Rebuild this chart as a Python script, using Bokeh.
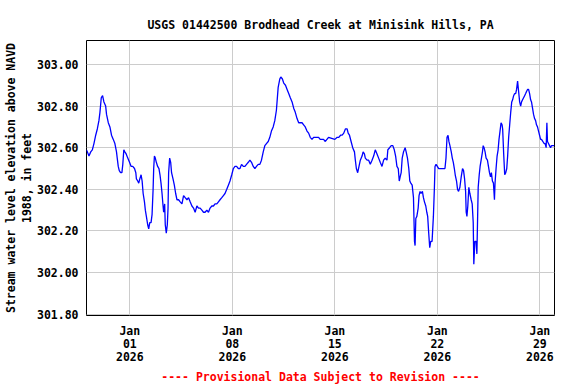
import datetime as dt
from bokeh.plotting import figure
from bokeh.models import FixedTicker, DatetimeTickFormatter, PrintfTickFormatter, Title, Range1d
from bokeh.embed import file_html
from bokeh.resources import INLINE

# ---- data ----
title_text = "USGS 01442500 Brodhead Creek at Minisink Hills, PA"
y_label = "Stream water level elevation above NAVD\n1988, in feet"
footer_text = "---- Provisional Data Subject to Revision ----"

# time of each reading, in days from 2026-01-01 00:00
day_offset = [
    -2.97, -2.90, -2.79, -2.67, -2.56, -2.45, -2.33, -2.22, -2.11, -2.04,
    -1.95, -1.86, -1.77, -1.65, -1.59, -1.47, -1.36, -1.25, -1.13, -1.02,
    -0.91, -0.86, -0.79, -0.72, -0.63, -0.54, -0.48, -0.41, -0.34, -0.25,
    -0.14, -0.02, 0.09, 0.20, 0.32, 0.41, 0.45, 0.54, 0.61, 0.68,
    0.77, 0.84, 0.91, 1.00, 1.06, 1.13, 1.22, 1.29, 1.36, 1.45,
    1.52, 1.59, 1.63, 1.68, 1.74, 1.81, 1.90, 1.99, 2.06, 2.13,
    2.20, 2.27, 2.31, 2.38, 2.42, 2.49, 2.56, 2.61, 2.65, 2.72,
    2.79, 2.85, 2.95, 3.04, 3.13, 3.22, 3.33, 3.44, 3.56, 3.67,
    3.78, 3.90, 4.01, 4.12, 4.24, 4.35, 4.46, 4.58, 4.69, 4.80,
    4.92, 5.03, 5.14, 5.26, 5.37, 5.48, 5.60, 5.71, 5.82, 5.94,
    6.05, 6.16, 6.28, 6.39, 6.50, 6.62, 6.73, 6.84, 6.96, 7.07,
    7.18, 7.29, 7.41, 7.52, 7.63, 7.75, 7.86, 7.97, 8.09, 8.20,
    8.31, 8.43, 8.54, 8.65, 8.77, 8.88, 8.99, 9.11, 9.22, 9.33,
    9.45, 9.56, 9.67, 9.79, 9.90, 10.01, 10.13, 10.24, 10.31, 10.42,
    10.51, 10.63, 10.74, 10.85, 10.96, 11.08, 11.19, 11.30, 11.42, 11.53,
    11.64, 11.76, 11.87, 11.98, 12.10, 12.21, 12.32, 12.44, 12.55, 12.66,
    12.78, 12.89, 13.00, 13.12, 13.23, 13.35, 13.46, 13.57, 14.00, 14.16,
    14.27, 14.39, 14.50, 14.61, 14.72, 14.84, 14.91, 15.00, 15.11, 15.22,
    15.34, 15.40, 15.47, 15.56, 15.65, 15.74, 15.86, 15.93, 16.02, 16.08,
    16.20, 16.31, 16.42, 16.54, 16.65, 16.76, 16.88, 16.99, 17.10, 17.22,
    17.33, 17.44, 17.56, 17.62, 17.74, 17.85, 17.96, 18.06, 18.15, 18.24,
    18.33, 18.40, 18.46, 18.53, 18.60, 18.69, 18.80, 18.87, 18.96, 19.05,
    19.12, 19.19, 19.28, 19.37, 19.44, 19.48, 19.53, 19.60, 19.69, 19.75,
    19.82, 19.89, 19.98, 20.05, 20.12, 20.21, 20.28, 20.34, 20.41, 20.48,
    20.55, 20.64, 20.73, 20.80, 20.84, 20.91, 21.00, 21.09, 21.18, 21.29,
    21.41, 21.52, 21.59, 21.66, 21.73, 21.79, 21.86, 21.95, 22.02, 22.09,
    22.16, 22.22, 22.31, 22.38, 22.45, 22.54, 22.63, 22.72, 22.79, 22.86,
    22.93, 22.97, 23.02, 23.08, 23.15, 23.22, 23.31, 23.38, 23.45, 23.49,
    23.56, 23.65, 23.70, 23.74, 23.79, 23.86, 23.92, 23.99, 24.08, 24.13,
    24.19, 24.26, 24.33, 24.42, 24.49, 24.56, 24.63, 24.69, 24.76, 24.83,
    24.90, 24.94, 25.01, 25.08, 25.15, 25.21, 25.28, 25.35, 25.42, 25.46,
    25.53, 25.60, 25.67, 25.74, 25.80, 25.87, 25.94, 26.01, 26.08, 26.14,
    26.21, 26.28, 26.35, 26.41, 26.48, 26.55, 26.62, 26.69, 26.75, 26.82,
    26.89, 26.96, 27.03, 27.09, 27.16, 27.23, 27.30, 27.37, 27.43, 27.50,
    27.57, 27.64, 27.71, 27.77, 27.84, 27.91, 27.98, 28.05, 28.11, 28.20,
    28.30, 28.36, 28.43, 28.48, 28.52, 28.59, 28.66, 28.73, 28.79, 28.98,
]

# water level, feet above NAVD 1988
stage_ft = [
    302.59, 302.58, 302.56, 302.58, 302.59, 302.62, 302.66, 302.69, 302.73, 302.77,
    302.84, 302.85, 302.82, 302.80, 302.76, 302.72, 302.70, 302.66, 302.64, 302.62,
    302.58, 302.55, 302.51, 302.49, 302.48, 302.48, 302.52, 302.59, 302.58, 302.57,
    302.55, 302.53, 302.51, 302.51, 302.50, 302.48, 302.45, 302.44, 302.43, 302.45,
    302.47, 302.44, 302.38, 302.34, 302.30, 302.27, 302.23, 302.21, 302.24, 302.24,
    302.28, 302.40, 302.50, 302.56, 302.55, 302.53, 302.51, 302.50, 302.47, 302.43,
    302.38, 302.32, 302.29, 302.33, 302.23, 302.19, 302.23, 302.31, 302.48, 302.55,
    302.53, 302.48, 302.45, 302.42, 302.38, 302.35, 302.35, 302.34, 302.33, 302.37,
    302.36, 302.35, 302.36, 302.34, 302.32, 302.31, 302.29, 302.32, 302.31, 302.31,
    302.30, 302.29, 302.29, 302.30, 302.29, 302.31, 302.32, 302.32, 302.33, 302.33,
    302.34, 302.35, 302.36, 302.37, 302.38, 302.40, 302.42, 302.44, 302.47, 302.50,
    302.51, 302.51, 302.50, 302.50, 302.52, 302.51, 302.51, 302.52, 302.53, 302.54,
    302.53, 302.51, 302.50, 302.51, 302.52, 302.52, 302.54, 302.58, 302.61, 302.62,
    302.63, 302.65, 302.68, 302.70, 302.73, 302.78, 302.89, 302.93, 302.94, 302.93,
    302.91, 302.90, 302.88, 302.86, 302.84, 302.82, 302.79, 302.77, 302.74, 302.72,
    302.72, 302.72, 302.71, 302.70, 302.68, 302.67, 302.65, 302.64, 302.65, 302.65,
    302.65, 302.65, 302.64, 302.64, 302.64, 302.63, 302.64, 302.65, 302.64, 302.65,
    302.65, 302.66, 302.66, 302.67, 302.69, 302.69, 302.67, 302.66, 302.63, 302.60,
    302.58, 302.54, 302.50, 302.48, 302.51, 302.54, 302.56, 302.58, 302.57, 302.55,
    302.54, 302.54, 302.52, 302.54, 302.56, 302.59, 302.57, 302.55, 302.53, 302.51,
    302.54, 302.55, 302.54, 302.59, 302.60, 302.61, 302.61, 302.59, 302.56, 302.51,
    302.50, 302.44, 302.46, 302.48, 302.55, 302.58, 302.60, 302.58, 302.55, 302.50,
    302.44, 302.43, 302.42, 302.36, 302.15, 302.13, 302.26, 302.27, 302.31, 302.37,
    302.39, 302.38, 302.39, 302.36, 302.34, 302.32, 302.29, 302.27, 302.19, 302.12,
    302.15, 302.15, 302.27, 302.41, 302.51, 302.52, 302.51, 302.50, 302.50, 302.50,
    302.50, 302.50, 302.55, 302.65, 302.66, 302.63, 302.61, 302.58, 302.55, 302.53,
    302.50, 302.47, 302.44, 302.40, 302.39, 302.41, 302.46, 302.50, 302.49, 302.45,
    302.39, 302.29, 302.27, 302.32, 302.41, 302.38, 302.35, 302.33, 302.24, 302.04,
    302.15, 302.15, 302.09, 302.23, 302.41, 302.47, 302.51, 302.54, 302.58, 302.61,
    302.60, 302.58, 302.55, 302.54, 302.51, 302.48, 302.46, 302.48, 302.44, 302.43,
    302.35, 302.43, 302.50, 302.56, 302.59, 302.64, 302.68, 302.72, 302.71, 302.69,
    302.57, 302.47, 302.48, 302.50, 302.56, 302.65, 302.71, 302.77, 302.82, 302.83,
    302.85, 302.86, 302.86, 302.88, 302.92, 302.87, 302.82, 302.80, 302.82, 302.83,
    302.84, 302.85, 302.86, 302.87, 302.88, 302.88, 302.86, 302.83, 302.82, 302.79,
    302.76, 302.74, 302.73, 302.71, 302.70, 302.68, 302.66, 302.64, 302.64, 302.63,
    302.62, 302.62, 302.60, 302.72, 302.63, 302.62, 302.61, 302.60, 302.61, 302.61,
]

x_tick_dates = ["2026-01-01", "2026-01-08", "2026-01-15", "2026-01-22", "2026-01-29"]
y_ticks = [301.8, 302.0, 302.2, 302.4, 302.6, 302.8, 303.0]
x_start = "2025-12-29 01:00"
x_end = "2026-01-30 00:00"
y_start, y_end = 301.794, 303.115

# ---- build ----
base = dt.datetime(2026, 1, 1)
times = [base + dt.timedelta(days=d) for d in day_offset]
epoch = dt.datetime(1970, 1, 1)


def ms(t):
    return (t - epoch).total_seconds() * 1000.0


FONT = "DejaVu Sans Mono"
FS = "11.5px"

p = figure(
    width=576, height=384,
    x_axis_type="datetime",
    x_range=Range1d(dt.datetime.fromisoformat(x_start), dt.datetime.fromisoformat(x_end)),
    y_range=Range1d(y_start, y_end),
    output_backend="svg", toolbar_location=None,
    min_border_left=86, min_border_right=22, min_border_top=40, min_border_bottom=69,
)
p.background_fill_color = "white"
p.border_fill_color = "white"
p.outline_line_color = "black"
p.outline_line_width = 1

p.line(times, stage_ft, line_color="#0000ff", line_width=1.3)

# title
p.title.text = title_text
p.title.align = "center"
p.title.vertical_align = "top"
p.title.text_font = FONT
p.title.text_font_size = FS
p.title.text_font_style = "bold"
p.title.text_color = "black"
p.title.standoff = 13

# footer
p.add_layout(Title(text=footer_text, align="center", text_font=FONT, text_font_size=FS,
                   text_font_style="bold", text_color="#ff0000", standoff=0), "below")

# axes
xa = p.xaxis[0]
xa.ticker = FixedTicker(ticks=[ms(dt.datetime.fromisoformat(d)) for d in x_tick_dates])
fmt = "%b\n%d\n%Y"
xa.formatter = DatetimeTickFormatter(days=fmt, months=fmt, hours=fmt, years=fmt,
                                     minutes=fmt, hourmin=fmt, context=None)
ya = p.yaxis[0]
ya.ticker = FixedTicker(ticks=y_ticks)
ya.formatter = PrintfTickFormatter(format="%.2f")
ya.axis_label = y_label
ya.axis_label_text_font = FONT
ya.axis_label_text_font_size = FS
ya.axis_label_text_font_style = "bold"
ya.axis_label_text_color = "black"
ya.axis_label_standoff = 0
ya.axis_label_text_line_height = 1.12

for ax in (xa, ya):
    ax.axis_line_color = None
    ax.major_tick_line_color = None
    ax.minor_tick_line_color = None
    ax.major_tick_out = 0
    ax.major_tick_in = 0
    ax.minor_tick_out = 0
    ax.minor_tick_in = 0
    ax.major_label_text_font = FONT
    ax.major_label_text_font_size = FS
    ax.major_label_text_font_style = "bold"
    ax.major_label_text_color = "black"
xa.major_label_standoff = 8
xa.major_label_text_line_height = 0.955
ya.major_label_standoff = 8

p.xgrid.ticker = xa.ticker
p.ygrid.ticker = ya.ticker
p.xgrid.grid_line_color = "#cccccc"
p.ygrid.grid_line_color = "#cccccc"
p.xgrid.grid_line_width = 1
p.ygrid.grid_line_width = 1

open("out.html", "w").write(file_html(p, INLINE))
